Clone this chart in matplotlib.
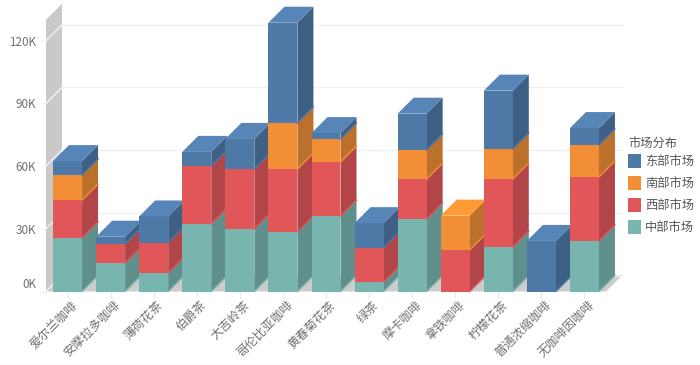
import numpy as np
import matplotlib
matplotlib.use('Agg')
import matplotlib.pyplot as plt
from matplotlib.patches import Patch, Polygon
from matplotlib.transforms import ScaledTranslation

plt.rcParams['font.family'] = ['Noto Sans CJK SC', 'DejaVu Sans']

categories = ['爱尔兰咖啡', '安摩拉多咖啡', '薄荷花茶', '伯爵茶', '大吉岭茶', '哥伦比亚咖啡', '黄春菊花茶',
              '绿茶', '摩卡咖啡', '拿铁咖啡', '柠檬花茶', '普通浓缩咖啡', '无咖啡因咖啡']

# values in K, bottom to top
center = [25.7, 13.6, 8.9, 32.3, 29.9, 28.5, 36.1, 4.5, 34.7, 0, 21.3, 0, 24.2]
west = [18.0, 9.1, 14.4, 27.8, 28.7, 30.1, 25.8, 16.4, 19.1, 19.9, 32.5, 0, 30.6]
south = [12.0, 0, 0, 0, 0, 22.0, 11.0, 0, 13.9, 16.4, 14.4, 0, 15.3]
east = [6.7, 3.5, 12.6, 6.7, 14.4, 48.0, 2.9, 11.8, 17.4, 0, 27.9, 24.2, 8.1]

series = [center, west, south, east]
names = ['中部市场', '西部市场', '南部市场', '东部市场']
colors = ['#78b5af', '#e15759', '#f28e36', '#4e79a7']
top_colors = ['#86c9c3', '#f96163', '#ff9a35', '#5785b8']
side_colors = ['#5f908c', '#b24547', '#bb712b', '#3f6085']
y_ticks = [0, 30, 60, 90, 120]
y_max = 130

W, H = 700, 365
left, right, bottom, top = 46, 606, 291.5, 291.5 - y_max * 2.09
depth_px = 16
bar_w = 29 / 43.08

fig = plt.figure(figsize=(W / 100, H / 100), dpi=100)
ax = fig.add_axes([left / W, 1 - bottom / H, (right - left) / W, (bottom - top) / H])
ax.set_xlim(-0.5, 12.5)
ax.set_ylim(0, y_max)
dx = depth_px * 13 / (right - left)
dy = depth_px * y_max / (bottom - top)


def poly(pts, color, z):
    ax.add_patch(Polygon(pts, closed=True, fc=color, ec='none', clip_on=False, zorder=z))


# wall and floor
x0, x1 = -0.5, 12.5
poly([(x0, 0), (x0 + dx, dy), (x0 + dx, y_max + dy), (x0, y_max)], '#c9c9c9', 1)
poly([(x0, 0), (x0 + dx, dy), (x1 + dx, dy), (x1, 0)], '#cccccc', 1)
for t in y_ticks:
    ax.plot([x0, x0 + dx], [t, t + dy], color='#f2f2f2', lw=1, clip_on=False, zorder=2)
    ax.plot([x0 + dx, x1 + dx], [t + dy, t + dy], color='#f0f0f0', lw=1, clip_on=False, zorder=2)

# bars, left to right so each one covers the side of the one before
z = 3
for i in range(len(categories)):
    base = 0
    xl, xr = i - bar_w / 2, i + bar_w / 2
    last = max(k for k in range(4) if series[k][i] > 0)
    for k in range(4):
        v = series[k][i]
        if v <= 0:
            continue
        t = base + v
        poly([(xr, base), (xr + dx, base + dy), (xr + dx, t + dy), (xr, t)], side_colors[k], z)
        ax.plot([xr, xr + dx], [base, base + dy], color=colors[k], lw=1, clip_on=False, zorder=z + 0.1)
        poly([(xl, base), (xr, base), (xr, t), (xl, t)], colors[k], z + 0.2)
        if k == last:
            poly([(xl, t), (xl + dx, t + dy), (xr + dx, t + dy), (xr, t)], top_colors[k], z + 0.2)
        base = t
        z += 1

for s in ax.spines.values():
    s.set_visible(False)
ax.patch.set_visible(False)
ax.set_xticks(np.arange(len(categories)))
ax.set_xticklabels(categories, rotation=45, ha='right', rotation_mode='anchor', fontsize=8.8, color='#707070')
ax.set_yticks(y_ticks)
ax.set_yticklabels([f'{t}K' for t in y_ticks], fontsize=8.4, color='#707070')
ax.tick_params(axis='x', length=4, width=0.8, color='#e6e6e6', pad=1)
ax.tick_params(axis='y', length=4, width=0.8, color='#f0f0f0', pad=3)

# labels sit a bit right of the tick
nudge = ScaledTranslation(3 / 100, 0, fig.dpi_scale_trans)
for lab in ax.get_xticklabels():
    lab.set_transform(lab.get_transform() + nudge)
ax.get_yticklabels()[0].set_va('bottom')

handles = [Patch(fc=colors[k], ec='none', label=names[k]) for k in [3, 2, 1, 0]]
leg = fig.legend(handles=handles, title='市场分布', loc='upper left', bbox_to_anchor=(617 / W, 1 - 126 / H),
                 frameon=False, fontsize=8.8, title_fontsize=8.8, labelcolor='#555555', alignment='left',
                 handlelength=1.08, handleheight=1.45, handletextpad=0.3, labelspacing=0.62, borderpad=0.4)
leg.get_title().set_color('#555555')
leg._legend_box.sep = 2.6

fig.add_artist(plt.Line2D([0, 1], [0.5 / H, 0.5 / H], color='#eef3f3', lw=1))

fig.savefig('out.png', dpi=100)
